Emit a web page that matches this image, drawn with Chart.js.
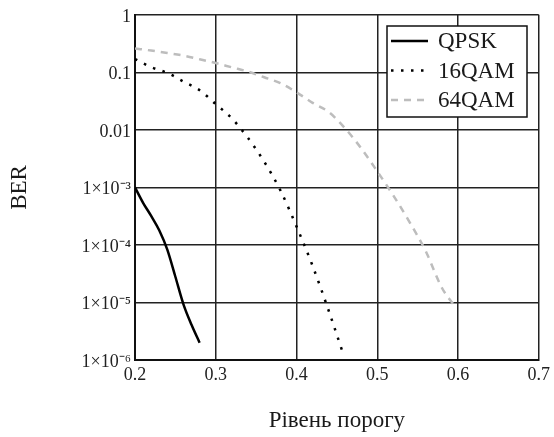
<!DOCTYPE html>
<html>
<head>
<meta charset="utf-8">
<script src="https://cdn.jsdelivr.net/npm/chart.js@4/dist/chart.umd.min.js"></script>
<style>
  body { margin: 0; background: #fff; }
  #wrap { width: 554px; height: 437px; }
</style>
</head>
<body>
<div id="wrap"><canvas id="chart-1" width="554" height="437"></canvas></div>
<script>
/************************ declaring variables *********************************/

const xTicks = [0.2, 0.3, 0.4, 0.5, 0.6, 0.7];
const xTickLabels = ["0.2", "0.3", "0.4", "0.5", "0.6", "0.7"];
const yTicks = [1e-6, 1e-5, 1e-4, 1e-3, 0.01, 0.1, 1];
const yTickLabels = ["1×10⁻⁶", "1×10⁻⁵", "1×10⁻⁴", "1×10⁻³", "0.01", "0.1", "1"];

// QPSK
const qpskX = [0.2, 0.21, 0.22, 0.23, 0.24, 0.25, 0.26, 0.27, 0.28];
const qpskY = [1.0e-3, 5.4e-4, 3.2e-4, 1.8e-4, 8.3e-5, 2.8e-5, 9.3e-6, 4.1e-6, 2.0e-6];

// 16QAM
const qam16X = [0.2, 0.22, 0.24, 0.26, 0.28, 0.3, 0.32, 0.34, 0.36, 0.38, 0.4, 0.42, 0.44, 0.458];
const qam16Y = [0.17, 0.123, 0.098, 0.069, 0.049, 0.028, 0.0158, 7.2e-3, 2.8e-3, 8.9e-4, 2.1e-4, 4.3e-5, 7.1e-6, 1.26e-6];

// 64QAM
const qam64X = [0.2, 0.22, 0.24, 0.26, 0.28, 0.3, 0.32, 0.34, 0.36, 0.38, 0.4, 0.42, 0.44, 0.46, 0.48, 0.5, 0.52, 0.54, 0.56, 0.58, 0.595];
const qam64Y = [0.26, 0.239, 0.217, 0.195, 0.169, 0.145, 0.122, 0.103, 0.082, 0.065, 0.045, 0.0295, 0.0204, 0.0107, 4.8e-3, 1.9e-3, 7.2e-4, 2.5e-4, 7.8e-5, 1.8e-5, 9.0e-6];

const serif = "'Liberation Serif', 'Times New Roman', serif";

function pts(xs, ys) {
  return xs.map((x, i) => ({ x: x, y: ys[i] }));
}

/************************* legend inside the plot ******************************/

const boxLegend = {
  id: "boxLegend",
  afterDraw(chart) {
    const ctx = chart.ctx;
    const x0 = 387, y0 = 26, w = 140, h = 91;
    ctx.save();
    ctx.fillStyle = "#fff";
    ctx.fillRect(x0, y0, w, h);
    ctx.strokeStyle = "#111";
    ctx.lineWidth = 1.5;
    ctx.strokeRect(x0, y0, w, h);
    ctx.font = "23px " + serif;
    ctx.textBaseline = "middle";
    chart.data.datasets.forEach((ds, i) => {
      const yy = y0 + 15 + i * 29.5;
      ctx.strokeStyle = ds.borderColor;
      ctx.lineWidth = ds.borderWidth;
      ctx.setLineDash(ds.borderDash || []);
      ctx.beginPath();
      ctx.moveTo(x0 + 4, yy);
      ctx.lineTo(x0 + 41, yy);
      ctx.stroke();
      ctx.setLineDash([]);
      ctx.fillStyle = "#1a1a1a";
      ctx.fillText(ds.label, x0 + 51, yy + 1);
    });
    ctx.restore();
  },
};

/************************* CHART FOR BER ******************************/

const ctx1 = document.getElementById("chart-1").getContext("2d");
const myChart1 = new Chart(ctx1, {
  type: "line",
  data: {
    datasets: [
      {
        label: "QPSK",
        data: pts(qpskX, qpskY),
        borderColor: "#000",
        borderWidth: 2.5,
        pointRadius: 0,
        cubicInterpolationMode: "monotone",
      },
      {
        label: "16QAM",
        data: pts(qam16X, qam16Y),
        borderColor: "#000",
        borderWidth: 2.5,
        borderDash: [2.5, 7.5],
        pointRadius: 0,
        cubicInterpolationMode: "monotone",
      },
      {
        label: "64QAM",
        data: pts(qam64X, qam64Y),
        borderColor: "#bdbdbd",
        borderWidth: 2.5,
        borderDash: [7, 6],
        pointRadius: 0,
        cubicInterpolationMode: "monotone",
      },
    ],
  },
  options: {
    responsive: false,
    animation: false,
    layout: {
      padding: { top: 12, right: 13, left: 0, bottom: 0 },
    },
    plugins: {
      legend: { display: false },
      tooltip: { enabled: false },
    },
    scales: {
      x: {
        type: "linear",
        min: 0.2,
        max: 0.7,
        afterBuildTicks: (s) => { s.ticks = xTicks.map((v) => ({ value: v })); },
        afterFit: (s) => { s.height = 77; },
        ticks: {
          padding: 4,
          color: "#222",
          font: { family: serif, size: 18 },
          maxRotation: 0,
          callback: (v, i) => xTickLabels[i],
        },
        grid: { color: "#222", lineWidth: 1.5, drawTicks: false },
        border: { color: "#111", width: 2 },
        title: {
          display: true,
          text: "Рівень порогу",
          color: "#1a1a1a",
          font: { family: serif, size: 23 },
          padding: { top: 0, bottom: 2 },
        },
      },
      y: {
        type: "logarithmic",
        min: 1e-6,
        max: 1,
        afterBuildTicks: (s) => { s.ticks = yTicks.map((v) => ({ value: v })); },
        afterFit: (s) => { s.width = 135; },
        ticks: {
          padding: 4,
          labelOffset: 2,
          color: "#222",
          font: { family: serif, size: 18 },
          callback: (v, i) => yTickLabels[i],
        },
        grid: { color: "#222", lineWidth: 1.5, drawTicks: false },
        border: { color: "#111", width: 2 },
        title: {
          display: true,
          text: "BER",
          color: "#1a1a1a",
          font: { family: serif, size: 23 },
          padding: { top: 6, bottom: 0 },
        },
      },
    },
  },
  plugins: [boxLegend],
});
</script>
</body>
</html>
